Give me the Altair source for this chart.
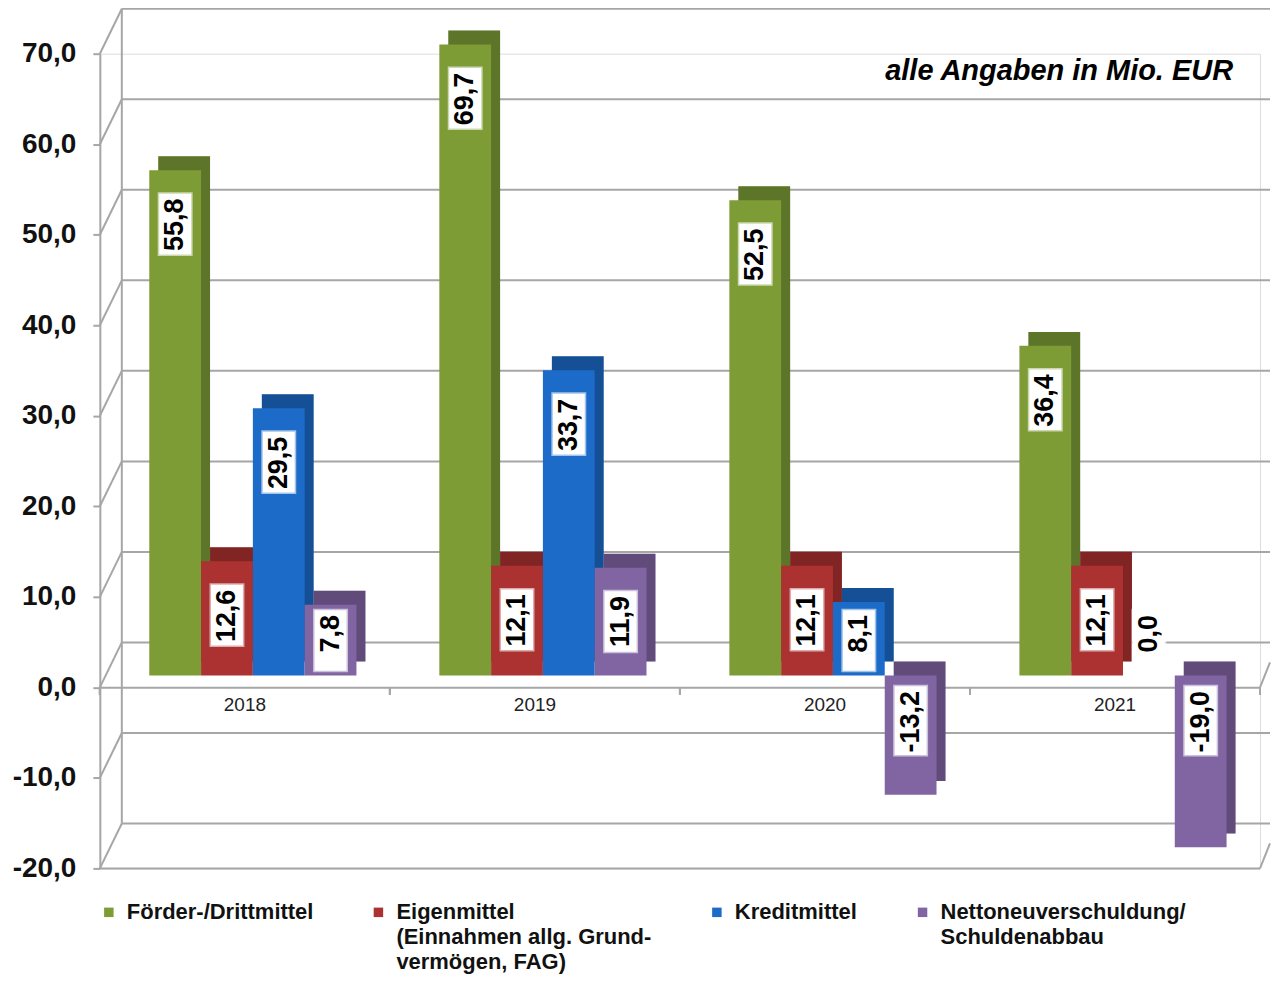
import altair as alt
import pandas as pd

years = ["2018", "2019", "2020", "2021"]
series = [
    "Förder-/Drittmittel",
    "Eigenmittel|(Einnahmen allg. Grund-|vermögen, FAG)",
    "Kreditmittel",
    "Nettoneuverschuldung/|Schuldenabbau",
]
foerder = [55.8, 69.7, 52.5, 36.4]
eigen = [12.6, 12.1, 12.1, 12.1]
kredit = [29.5, 33.7, 8.1, 0.0]
netto = [7.8, 11.9, -13.2, -19.0]
y_ticks = [-20, -10, 0, 10, 20, 30, 40, 50, 60, 70]
colors = ["#7D9C36", "#AC3131", "#1C6BC8", "#8165A3"]
note = "alle Angaben in Mio. EUR"

rows = []
for s, vals in zip(series, [foerder, eigen, kredit, netto]):
    for y, v in zip(years, vals):
        rows.append({"year": y, "series": s, "value": v})
df = pd.DataFrame(rows)
grid_df = pd.DataFrame({"tick": y_ticks})

W, H = 1162, 816
ymin, ymax = -20, 70
zero_px = H * ymax / (ymax - ymin)
BW = W / len(years)
DX, DY = 8, -12  # 3D depth shift of bars
SX, SY = DX + 9, DY - 14  # depth face shift
GRID = "#A6A6A6"

fmt = "(datum.value < 0 ? '-' : '') + replace(format(abs(datum.value), '.1f'), '.', ',')"

xs = alt.Scale(domain=years, paddingInner=0, paddingOuter=0)
ys = alt.Scale(domain=[ymin, ymax], nice=False, zero=False)
cs = alt.Scale(domain=series, range=colors)


def xo(shift):
    return alt.Scale(type="band", domain=series, paddingInner=0, paddingOuter=0.8,
                     range=[shift, BW + shift])


base = alt.Chart(df)

# back-wall grid lines
grid = alt.Chart(grid_df).mark_rule(color=GRID, strokeWidth=2, yOffset=-45, y2Offset=-45).encode(
    y=alt.Y("tick:Q", scale=ys),
    x=alt.value(22),
    x2=alt.value(W + 10),
)
diag = alt.Chart(grid_df).mark_rule(color=GRID, strokeWidth=2, y2Offset=-45).encode(
    y=alt.Y("tick:Q", scale=ys),
    y2="tick:Q",
    x=alt.value(0),
    x2=alt.value(22),
)
backedge = alt.Chart(grid_df).mark_rule(color=GRID, strokeWidth=2, yOffset=-45, y2Offset=-45).encode(
    y=alt.Y("min(tick):Q", scale=ys),
    y2="max(tick):Q",
    x=alt.value(22),
)
floor = alt.Chart(grid_df).transform_filter("datum.tick == -20").mark_rule(
    color=GRID, strokeWidth=2
).encode(
    y=alt.Y("tick:Q", scale=ys),
    x=alt.value(0),
    x2=alt.value(W),
)
rdiag = alt.Chart(grid_df).transform_filter("datum.tick == -20 || datum.tick == 0").mark_rule(
    color=GRID, strokeWidth=2, y2Offset=-25
).encode(
    y=alt.Y("tick:Q", scale=ys),
    y2="tick:Q",
    x=alt.value(W),
    x2=alt.value(W + 10),
)
xticks_l = base.mark_tick(orient="vertical", size=7, thickness=2, color=GRID,
                          yOffset=4, xOffset=-BW / 2).encode(
    x=alt.X("year:N", scale=xs),
    y=alt.datum(0, scale=ys),
)
xticks_r = base.transform_filter(alt.datum.year == years[-1]).mark_tick(
    orient="vertical", size=7, thickness=2, color=GRID, yOffset=4, xOffset=BW / 2
).encode(
    x=alt.X("year:N", scale=xs),
    y=alt.datum(0, scale=ys),
)

legend = alt.Legend(orient="none", legendX=-2, legendY=849, direction="horizontal",
                    columns=4, columnPadding=54,
                    labelExpr="slice(split(datum.label + '||', '|'), 0, 3)",
                    labelFont="Liberation Sans", labelFontWeight="bold",
                    labelFontSize=22, labelColor="#111111", labelLimit=400,
                    labelBaseline="middle", labelOffset=7, labelAlign="left",
                    symbolType="square", symbolSize=90, symbolStrokeWidth=0)

xaxis = alt.Axis(orient="bottom", offset=-(H - zero_px), labelAngle=0, ticks=False,
                 labelAlign="center",
                 labelFont="Liberation Sans", labelFontSize=19, labelColor="#222222",
                 labelPadding=17, domainColor=GRID, domainWidth=2)
yaxis = alt.Axis(values=y_ticks, grid=False, labelExpr=fmt, labelAlign="right",
                 labelFont="Liberation Sans", labelFontWeight="bold", labelFontSize=28,
                 labelColor="#111111", labelPadding=17, tickSize=7, tickColor=GRID,
                 tickWidth=2, domainColor=GRID, domainWidth=2)


def enc(shift):
    return dict(
        x=alt.X("year:N", scale=xs, title=None, axis=xaxis),
        xOffset=alt.XOffset("series:N", scale=xo(shift)),
        y=alt.Y("value:Q", scale=ys, title=None, axis=yaxis),
        y2=alt.datum(0),
    )


shadow = base.mark_bar(yOffset=SY, y2Offset=SY).encode(
    color=alt.Color("series:N", scale=cs, title=None, legend=legend),
    **enc(SX),
)
shade = base.mark_bar(yOffset=SY, y2Offset=SY, color="black", opacity=0.25).encode(**enc(SX))
bars = base.mark_bar(yOffset=DY, y2Offset=DY).encode(
    color=alt.Color("series:N", scale=cs, title=None, legend=legend),
    **enc(DX),
)

lab = base.transform_calculate(
    ltxt=fmt,
).transform_calculate(
    lpos="datum.value >= 10 ? datum.value - 2.8 : (datum.value >= 0 ? 7 : -1.4)",
).transform_calculate(
    btop="datum.lpos + 0.2",
    bbot="datum.lpos - (length(datum.ltxt) > 4 ? 7.4 : 6.5)",
)
lab_x = dict(
    x=alt.X("year:N", scale=xs),
    xOffset=alt.XOffset("series:N", scale=xo(DX)),
)
box = lab.mark_bar(width=32, color="white", stroke="white", strokeWidth=3, strokeOpacity=0.6,
                   yOffset=DY, y2Offset=DY).encode(
    y=alt.Y("btop:Q", scale=ys),
    y2="bbot:Q",
    **lab_x,
)
text = lab.mark_text(yOffset=DY, angle=270, align="right", baseline="middle",
                     font="Liberation Sans", fontWeight="bold", fontSize=27, dx=-3,
                     color="black").encode(
    y=alt.Y("lpos:Q", scale=ys),
    text="ltxt:N",
    **lab_x,
)

title = alt.Chart(pd.DataFrame({"t": [note]})).mark_text(
    align="right", baseline="middle", font="Liberation Sans", fontWeight="bold",
    fontStyle="italic", fontSize=29, color="black"
).encode(text="t:N", x=alt.value(W - 27), y=alt.value(17))

chart = alt.layer(
    grid, diag, backedge, floor, rdiag, xticks_l, xticks_r, shadow, shade, bars, box, text, title
).resolve_scale(xOffset="independent").properties(
    width=W, height=H,
    autosize=alt.AutoSizeParams(type="none"),
    padding={"left": 92, "top": 45, "right": 12, "bottom": 108},
).configure_view(stroke=None).configure(style={"guide-label": {"lineHeight": 25}})

chart.save("out.html", embed_options={"renderer": "svg", "actions": False})
